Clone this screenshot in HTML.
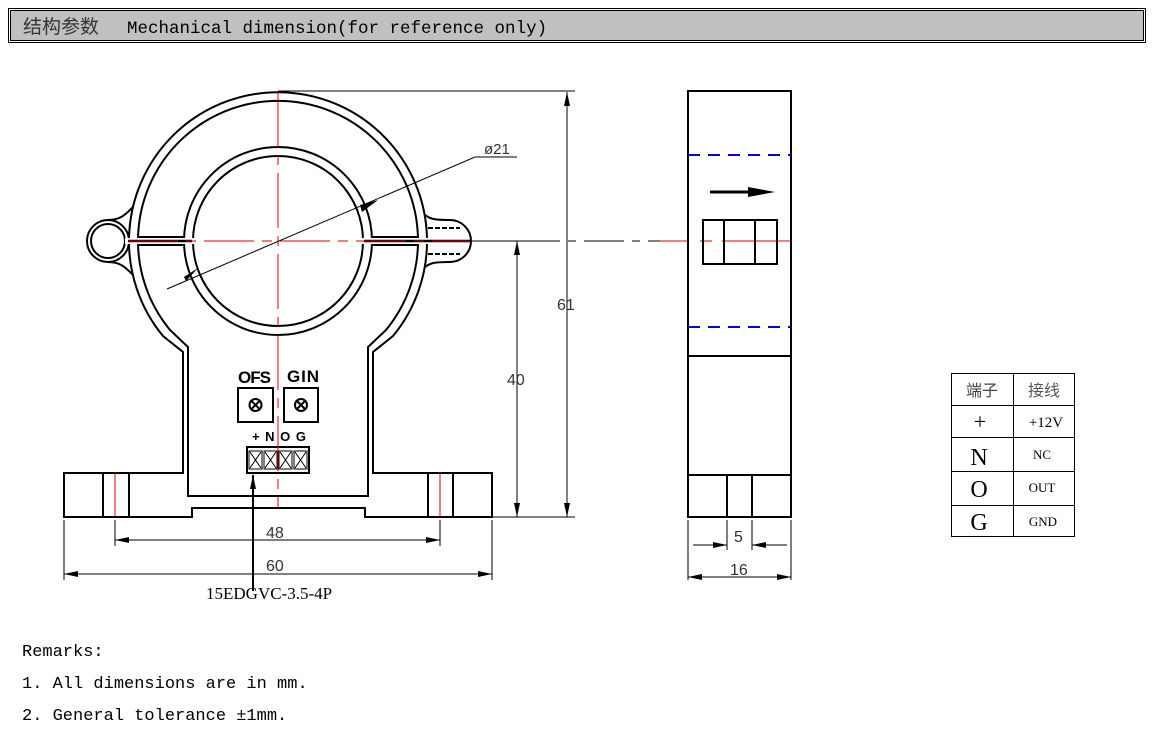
<!DOCTYPE html>
<html><head><meta charset="utf-8"><style>
body{margin:0;width:1155px;height:740px;background:#fff;overflow:hidden;position:relative;font-family:"Liberation Mono","Noto Sans CJK SC",monospace;}
.hdr{position:absolute;left:10px;top:10px;width:1132px;height:29px;background:#c0c0c0;border:1px solid #000;outline:1px solid #000;outline-offset:1px;font-size:17px;line-height:29px;color:#000;white-space:nowrap;}
.rm{position:absolute;left:22px;font-family:"Liberation Mono","Noto Serif CJK SC",monospace;font-size:17px;line-height:20px;color:#000;white-space:nowrap;}
</style></head><body>
<div class="hdr"><span style="margin-left:12px;font-family:'Noto Sans CJK SC',sans-serif;font-size:19px;color:#333;display:inline-block;width:84px">结构参数</span><span style="margin-left:20px;font-size:17.5px">Mechanical dimension(for reference only)</span></div>
<svg width="1155" height="740" style="position:absolute;left:0;top:0" xmlns="http://www.w3.org/2000/svg">
<defs><marker id="a" markerWidth="14" markerHeight="6" refX="14" refY="3" orient="auto-start-reverse" markerUnits="userSpaceOnUse"><path d="M0,0 L14,3 L0,6z" fill="#000"/></marker></defs>
<g fill="none" stroke="#000" stroke-width="2">
<path d="M108,220 C120,220 125,215 132,208 L132,274 C125,267 120,262 108,262" fill="#fff"/>
<circle cx="108" cy="241" r="21" fill="#fff"/>
<circle cx="108" cy="241" r="17"/>
<path d="M420,210 C428,220 435,220 450,220 A21 21 0 0 1 450,262 C435,262 428,262 420,272" fill="#fff"/>
<path d="M428,228 L460,228 M428,254 L460,254" stroke-dasharray="5,2"/>
<path d="M183,473 L183,352 L163,336 A149 149 0 1 1 393,336 L373,352 L373,473 L492,473 L492,517 L365,517 L365,508 L192,508 L192,517 L64,517 L64,473 Z" fill="#fff"/>
<path d="M188,496 L188,347 L170,330 A140 140 0 1 1 386,330 L368,347 L368,496 Z"/>
<circle cx="278" cy="241" r="94"/>
<circle cx="278" cy="241" r="85"/>
</g>
<rect x="125" y="238" width="310" height="6" fill="#fff"/>
<g stroke="#000" stroke-width="2" fill="none">
<path d="M137,237 L184,237 M137,245 L184,245 M372,237 L419,237 M372,245 L419,245"/>
<path d="M128,241 L192,241 M364,241 L470,241" stroke-width="2.5"/>
<path d="M103,473 L103,517 M129,473 L129,517 M428,473 L428,517 M453,473 L453,517"/>
<rect x="238" y="388" width="35" height="34"/><rect x="284" y="388" width="34" height="34"/>
<rect x="247" y="447" width="62" height="26"/>
</g>
<g stroke="#000" stroke-width="2" fill="none">
<circle cx="255.5" cy="405" r="6"/><path d="M251,400.5 L260,409.5 M260,400.5 L251,409.5"/>
<circle cx="301" cy="405" r="6"/><path d="M296.5,400.5 L305.5,409.5 M305.5,400.5 L296.5,409.5"/>
</g>
<g stroke="#000" stroke-width="1" fill="#fff">
<rect x="249" y="451" width="13" height="18"/><rect x="264" y="451" width="13" height="18"/><rect x="279" y="451" width="13" height="18"/><rect x="294" y="451" width="13" height="18"/>
<path d="M250,452 L261,468 M261,452 L250,468 M265,452 L276,468 M276,452 L265,468 M280,452 L291,468 M291,452 L280,468 M295,452 L306,468 M306,452 L295,468" fill="none"/>
</g>
<g font-family="Liberation Sans,sans-serif" font-weight="bold" font-size="17" fill="#000">
<text x="238" y="383" textLength="33">OFS</text><text x="287" y="382" textLength="32">GIN</text>
<text x="252" y="441" font-size="13" textLength="54">+ N O G</text>
</g>
<g stroke="#e00000" stroke-width="1" fill="none">
<path d="M278,92 L278,508" stroke-dasharray="55,8,10,8"/>
<path d="M128,241 L520,241" stroke-dasharray="50,8,10,8"/>
<path d="M115,473 L115,517 M440,473 L440,517"/>
<path d="M660,241 L688,241 M700,241 L712,241 M722,241 L791,241"/>
</g>
<path d="M520,241 L660,241" stroke="#000" stroke-width="1" stroke-dasharray="40,8,8,8"/>
<g stroke="#000" stroke-width="1" fill="none">
<path d="M167,289 L475,157 L517,157"/>
</g>
<path d="M378,200 L362,212 L360,205z M184,277 L198,268 L186,281z" fill="#000"/>
<text x="484" y="154" font-family="Liberation Sans,sans-serif" font-size="15" fill="#333">ø21</text>
<g stroke="#000" stroke-width="1" fill="none">
<path d="M278,91 L575,91 M492,517 L575,517 M470,241 L525,241"/>
<path d="M567,92 L567,517" marker-start="url(#a)" marker-end="url(#a)"/>
<path d="M517,241 L517,517" marker-start="url(#a)" marker-end="url(#a)"/>
<path d="M115,520 L115,546 M440,520 L440,546 M64,520 L64,580 M492,520 L492,580"/>
<path d="M115,540 L440,540" marker-start="url(#a)" marker-end="url(#a)"/>
<path d="M64,574 L492,574" marker-start="url(#a)" marker-end="url(#a)"/>
<path d="M253,591 L253,475" stroke-width="2" marker-end="url(#a)"/>
</g>
<g font-family="Liberation Sans,sans-serif" font-size="16" fill="#333">
<text x="557" y="310">61</text><text x="507" y="385">40</text>
<text x="266" y="538">48</text><text x="266" y="571">60</text>
<text x="734" y="542">5</text><text x="730" y="575">16</text>
</g>
<text x="206" y="599" font-family="Liberation Serif,serif" font-size="17" fill="#000">15EDGVC-3.5-4P</text>
<g stroke="#000" stroke-width="2" fill="none">
<rect x="688" y="91" width="103" height="426"/>
<path d="M688,356 L791,356 M688,475 L791,475 M727,475 L727,517 M752,475 L752,517"/>
<rect x="703" y="220" width="74" height="44"/>
<path d="M724,220 L724,264 M755,220 L755,264"/>
<path d="M710,192 L750,192" stroke-width="3"/>
</g>
<path d="M748,187 L775,192 L748,197z" fill="#000"/>
<g stroke="#0000e0" stroke-width="2" stroke-dasharray="12,8"><path d="M688,155 L791,155 M688,327 L791,327"/></g>
<g stroke="#000" stroke-width="1" fill="none">
<path d="M688,520 L688,580 M791,520 L791,580 M727,520 L727,550 M752,520 L752,550"/>
<path d="M693,545 L727,545" marker-end="url(#a)"/><path d="M787,545 L752,545" marker-end="url(#a)"/>
<path d="M688,577 L791,577" marker-start="url(#a)" marker-end="url(#a)"/>
</g>
<g stroke="#000" stroke-width="1" fill="none">
<rect x="951.5" y="373.5" width="123" height="163"/>
<path d="M1013.5,373 L1013.5,537 M951,405.5 L1075,405.5 M951,437.5 L1075,437.5 M951,471.5 L1075,471.5 M951,505.5 L1075,505.5"/>
</g>
<g font-family="Liberation Serif,'Noto Serif CJK SC',serif" fill="#000" text-anchor="middle">
<text x="982" y="396" font-size="16" font-family="Noto Sans CJK SC,sans-serif" fill="#444">端子</text>
<text x="1044" y="396" font-size="16" font-family="Noto Sans CJK SC,sans-serif" fill="#555">接线</text>
<text x="980" y="429" font-size="22">+</text><text x="1046" y="427" font-size="15">+12V</text>
<text x="979" y="465" font-size="24">N</text><text x="1042" y="459" font-size="13">NC</text>
<text x="979" y="497" font-size="24">O</text><text x="1042" y="492" font-size="13">OUT</text>
<text x="979" y="530" font-size="24">G</text><text x="1043" y="526" font-size="13">GND</text>
</g>
</svg>
<div class="rm" style="top:643px">Remarks:</div>
<div class="rm" style="top:675px">1. All dimensions are in mm.</div>
<div class="rm" style="top:707px">2. General tolerance ±1mm.</div>
</body></html>
